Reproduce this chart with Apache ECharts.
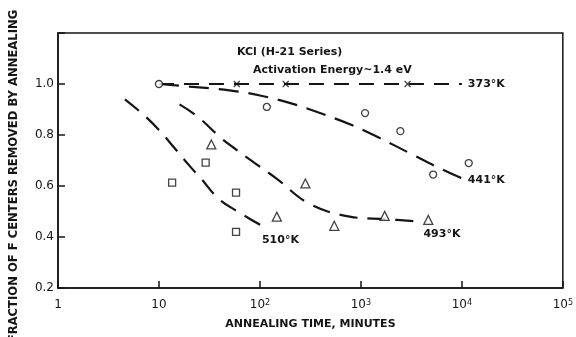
<!DOCTYPE html>
<html>
<head>
<meta charset="utf-8">
<script src="https://cdn.jsdelivr.net/npm/echarts@6/dist/echarts.min.js"></script>
<style>
  html, body { margin: 0; padding: 0; background: #fff; }
  #chart { width: 576px; height: 337px; }
</style>
</head>
<body>
<div id="chart"></div>
<script>
// measured points (time in minutes, fraction removed)
const pts373 = [[59, 1.0], [180, 1.0], [2900, 1.0]]
const pts441 = [[10, 1.0], [117, 0.91], [1100, 0.886], [2460, 0.815], [5200, 0.645], [11700, 0.69]]
const pts493 = [[33, 0.763], [147, 0.48], [282, 0.61], [545, 0.444], [1720, 0.483], [4650, 0.467]]
const pts510 = [[13.5, 0.613], [29, 0.692], [58, 0.574], [58, 0.42]]

// hand drawn curves
const curve373 = [[10, 1.0], [10000, 1.0]]
const curve441 = [[10, 1.0], [20, 0.99], [50, 0.975], [100, 0.955], [200, 0.925], [400, 0.885], [800, 0.84], [1500, 0.79], [3000, 0.73], [6000, 0.67], [10000, 0.63]]
const curve493 = [[16, 0.92], [24.5, 0.87], [40.7, 0.79], [55, 0.75], [89, 0.69], [145, 0.63], [310, 0.53], [776, 0.48], [1780, 0.47], [3800, 0.46]]
const curve510 = [[4.6, 0.94], [7, 0.88], [10, 0.82], [13.5, 0.76], [20, 0.68], [26, 0.63], [39, 0.55], [60, 0.5], [89, 0.46], [120, 0.43]]

const ink = '#151515'
const font = 'DejaVu Sans'

const chart = echarts.init(document.getElementById('chart'))

function dashed(name, data, dash, label, offset, smooth) {
  return {
    name: name,
    type: 'line',
    data: data,
    smooth: smooth,
    showSymbol: false,
    silent: true,
    lineStyle: { color: ink, width: 2.2, type: dash },
    endLabel: {
      show: true,
      formatter: label,
      color: ink,
      fontFamily: font,
      fontWeight: 'bold',
      fontSize: 11,
      offset: offset
    }
  }
}

function marks(name, data, symbol, size) {
  return {
    name: name,
    type: 'scatter',
    data: data,
    symbol: symbol,
    symbolSize: size,
    z: 5,
    itemStyle: { color: '#fff', borderColor: ink, borderWidth: 1.3 }
  }
}

chart.setOption({
  backgroundColor: '#fff',
  animation: false,
  grid: {
    left: 58, right: 8, top: 33, bottom: 49,
    show: true, borderColor: ink, borderWidth: 1.5
  },
  title: [
    { text: 'KCl (H-21 Series)', left: 232, top: 42,
      textStyle: { color: ink, fontFamily: font, fontWeight: 'bold', fontSize: 11 } },
    { text: 'Activation Energy~1.4 eV', left: 248, top: 60,
      textStyle: { color: ink, fontFamily: font, fontWeight: 'bold', fontSize: 11 } }
  ],
  graphic: [{
    type: 'text',
    x: 14, y: 176,
    rotation: Math.PI / 2,
    style: {
      text: 'FRACTION OF F CENTERS REMOVED BY ANNEALING',
      fontFamily: font, fontWeight: 'bold', fontSize: 11.6,
      fill: ink, align: 'center', verticalAlign: 'middle'
    }
  }],
  xAxis: {
    type: 'log',
    logBase: 10,
    min: 1,
    max: 100000,
    name: 'ANNEALING TIME, MINUTES',
    nameLocation: 'middle',
    nameGap: 31,
    nameTextStyle: { color: ink, fontFamily: font, fontWeight: 'bold', fontSize: 11 },
    axisLine: { lineStyle: { color: ink, width: 1.5 } },
    axisTick: { inside: true, length: 7, lineStyle: { color: ink, width: 1.5 } },
    splitLine: { show: false },
    axisLabel: {
      color: ink, fontFamily: font, fontSize: 12, margin: 11,
      formatter: function (v) {
        const p = Math.round(Math.log10(v))
        if (p === 0) return '1'
        if (p === 1) return '10'
        return '10{sup|' + p + '}'
      },
      rich: { sup: { fontSize: 8, verticalAlign: 'top', color: ink, fontFamily: font } }
    }
  },
  yAxis: {
    type: 'value',
    min: 0.2,
    max: 1.2,
    interval: 0.2,
    axisLine: { show: true, lineStyle: { color: ink, width: 1.5 } },
    axisTick: { show: true, inside: true, length: 7, lineStyle: { color: ink, width: 1.5 } },
    splitLine: { show: false },
    axisLabel: {
      color: ink, fontFamily: font, fontSize: 12, margin: 4,
      formatter: function (v) { return v > 1.1 ? '' : v.toFixed(1) }
    }
  },
  series: [
    dashed('373', curve373, [15, 10], '373°K', [-2, 0], false),
    dashed('441', curve441, [20, 10], '441°K', [-2, 2], 0.4),
    dashed('493', curve493, [18, 10], '493°K', [-4, 12], 0.4),
    dashed('510', curve510, [18, 10], '510°K', [-14, 11], 0.4),
    marks('373 pts', pts373, 'path://M0,0L10,10M10,0L0,10', 6),
    marks('441 pts', pts441, 'circle', 7),
    marks('493 pts', pts493, 'triangle', 9),
    marks('510 pts', pts510, 'rect', 7)
  ]
})
</script>
</body>
</html>
